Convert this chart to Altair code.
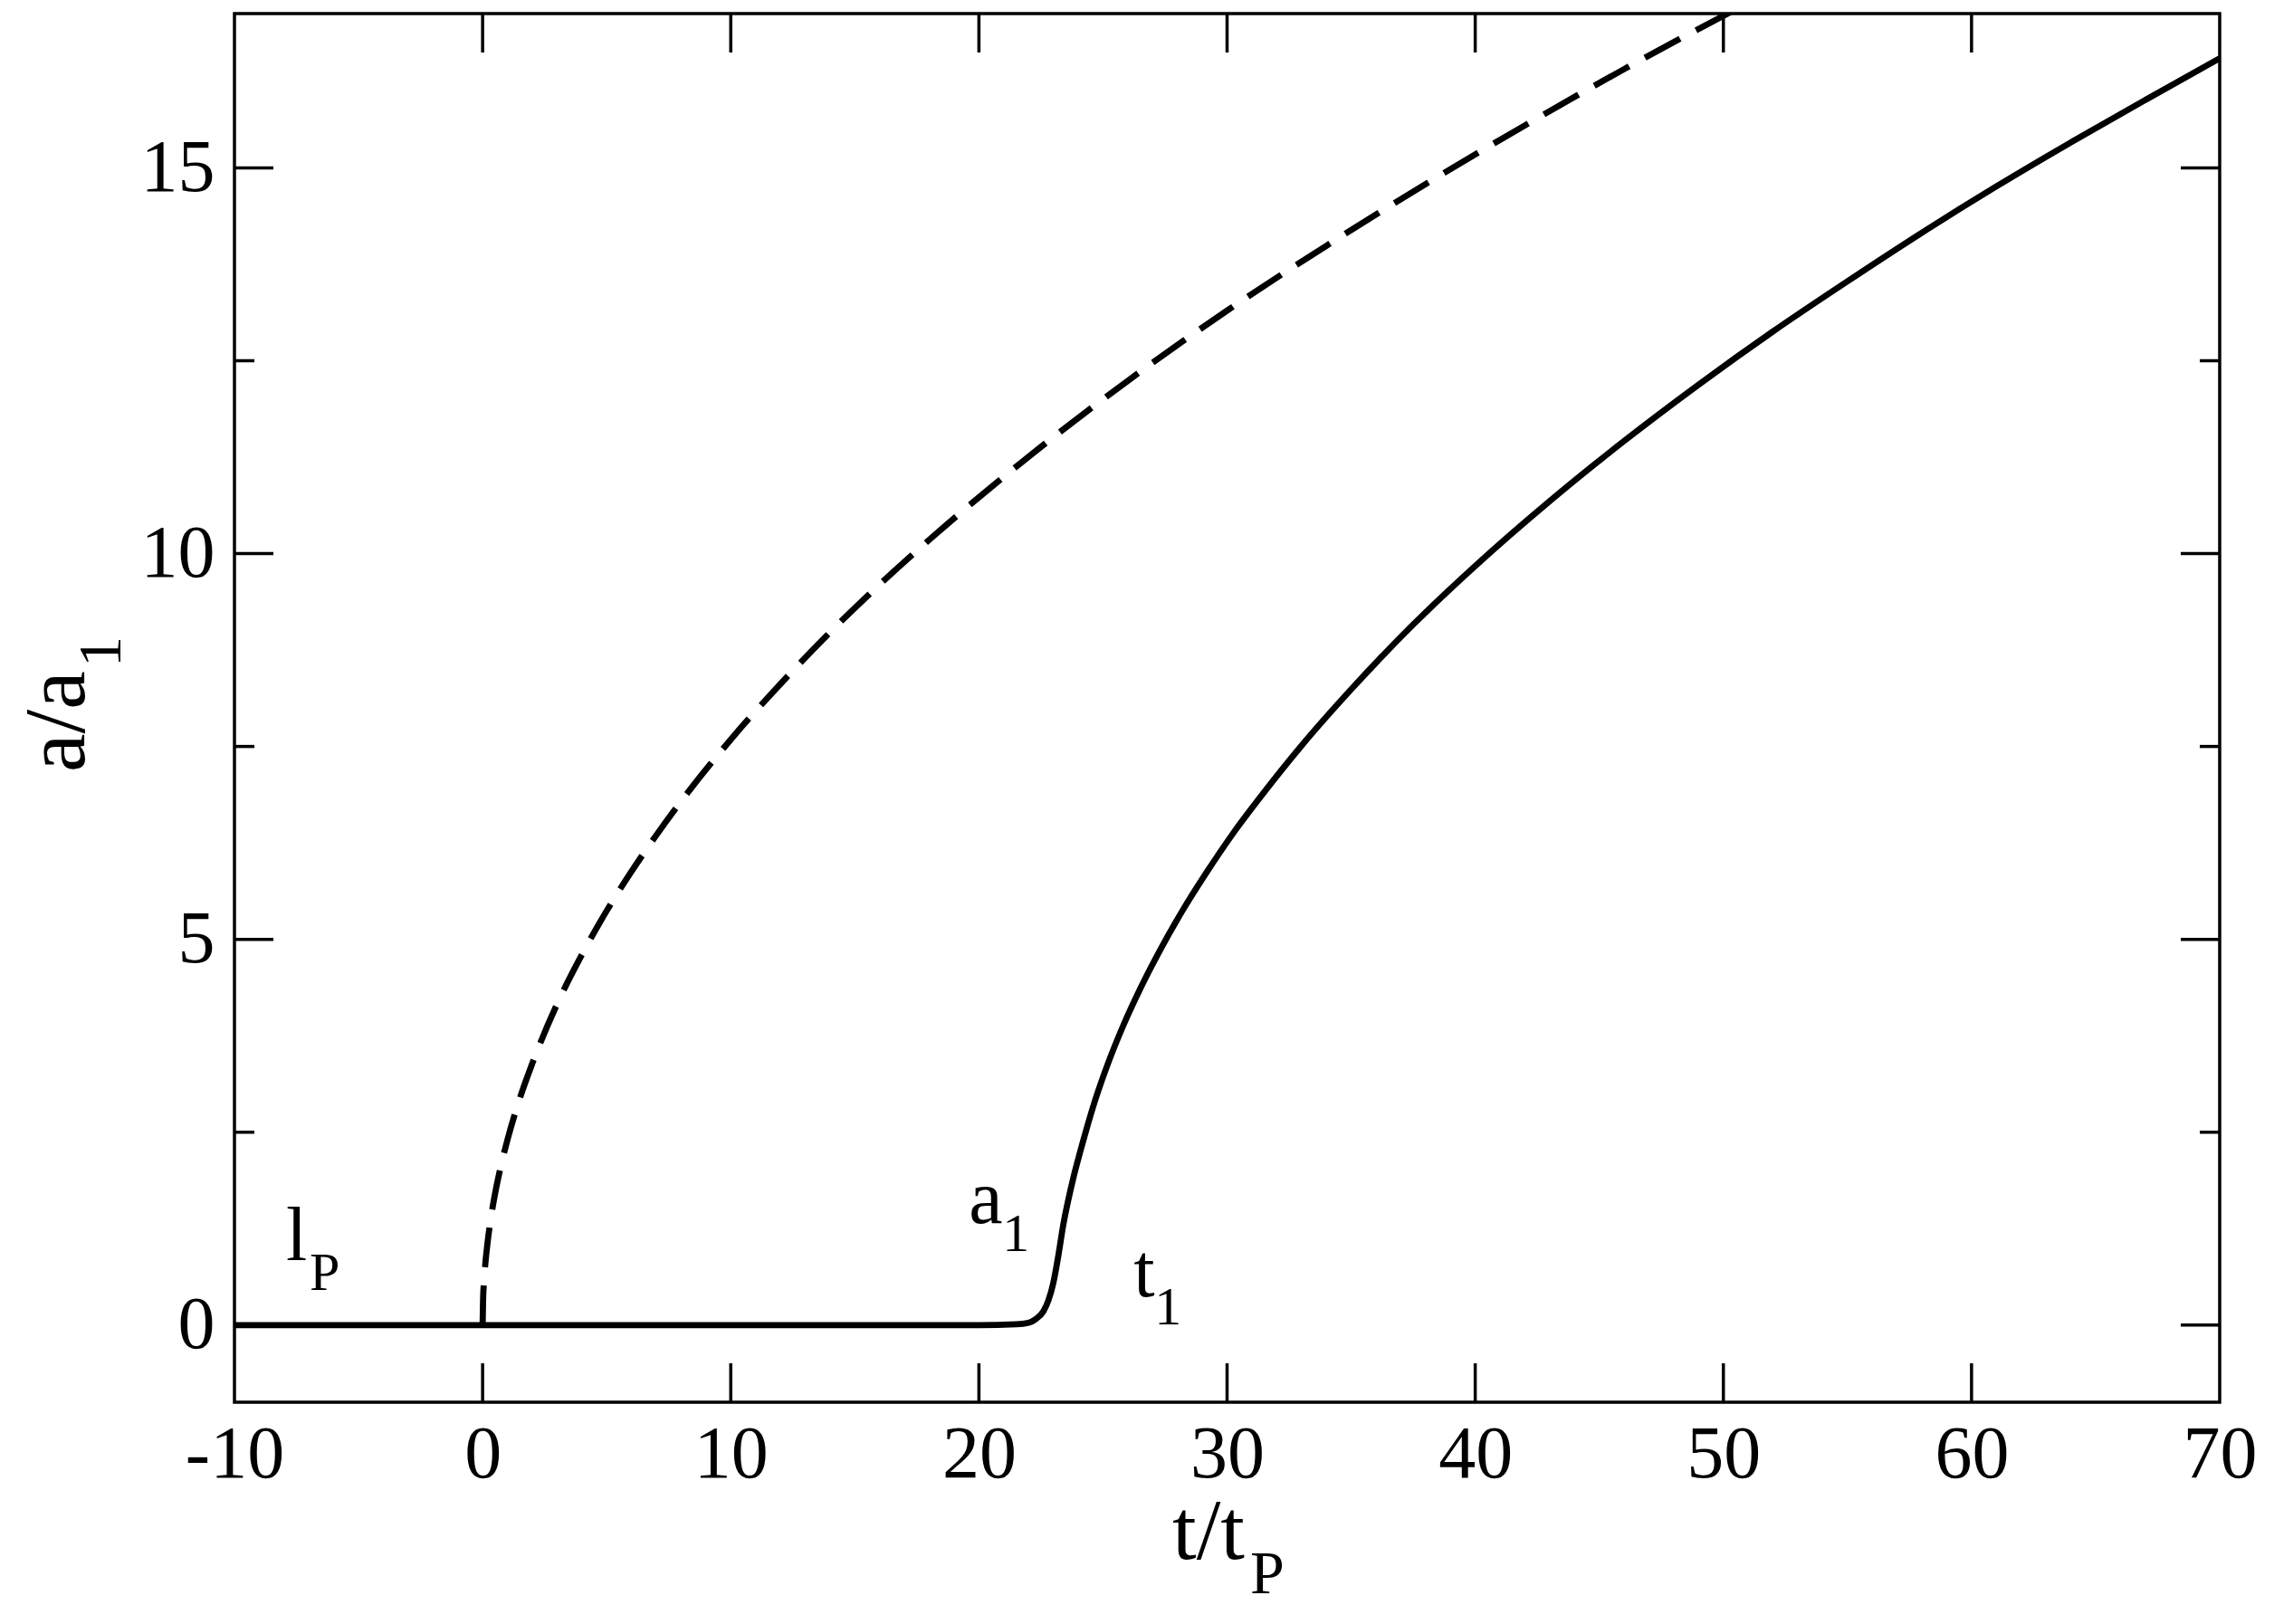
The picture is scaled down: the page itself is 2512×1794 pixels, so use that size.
import altair as alt
import pandas as pd

# ---- data ----
solid_t = [-10, 0, 10, 20, 21.5, 22.0, 22.3, 22.6, 22.8, 23.0, 23.2, 23.4, 23.6, 23.8, 24.0,
           24.3, 24.7, 25.2, 25.8, 26.5, 27.3, 28.2, 29.2, 30.3, 31.5, 33.0, 35.0, 37.5, 40.0,
           43.0, 46.0, 49.0, 52.0, 55.0, 58.0, 61.0, 64.0, 67.0, 70.0]
solid_a = [0, 0, 0, 0, 0.01, 0.03, 0.08, 0.18, 0.32, 0.55, 0.9, 1.3, 1.62, 1.9, 2.15,
           2.5, 2.93, 3.39, 3.87, 4.36, 4.86, 5.37, 5.88, 6.40, 6.91, 7.51, 8.24, 9.08, 9.84,
           10.68, 11.46, 12.19, 12.88, 13.53, 14.16, 14.76, 15.33, 15.88, 16.42]

dashed_t = [0, 0.02, 0.05, 0.1, 0.2, 0.35, 0.5, 0.75, 1, 1.5, 2, 3, 4, 5, 6, 7, 8, 10, 12, 14,
            16, 18, 20, 23, 26, 30, 34, 38, 42, 46, 50, 50.3]
dashed_a = [0, 0.34, 0.54, 0.76, 1.07, 1.42, 1.70, 2.08, 2.40, 2.94, 3.39, 4.16, 4.80, 5.37,
            5.88, 6.35, 6.79, 7.59, 8.31, 8.98, 9.60, 10.18, 10.73, 11.51, 12.24, 13.15, 13.99,
            14.79, 15.55, 16.28, 16.97, 17.02]

x_label_values = [-10, 0, 10, 20, 30, 40, 50, 60, 70]
x_tick_values = [0, 10, 20, 30, 40, 50, 60]
y_major_values = [0, 5, 10, 15]
y_minor_values = [2.5, 7.5, 12.5]

ann_main_text = ["l", "a", "t"]
ann_main_t = [-7.92, 19.59, 26.23]
ann_main_a = [0.84, 1.32, 0.37]
ann_sub_text = ["P", "1", "1"]
ann_sub_t = [-6.97, 20.94, 27.07]
ann_sub_a = [0.454, 0.96, 0.01]

# ---- layout ----
W, H = 2193, 1534
FONT = "Liberation Serif"
xs = alt.Scale(domain=[-10, 70], nice=False, zero=False)
ys = alt.Scale(domain=[-1, 17], nice=False, zero=False)

x_axis = alt.Axis(values=x_label_values, ticks=False, tickSize=0, domain=False, grid=False,
                  labelFont=FONT, labelFontSize=82, labelColor="black", labelPadding=17,
                  labelFlush=False, labelOverlap=False, title=None,
                  labelExpr="datum.value < 0 ? '-' + (-datum.value) : '' + datum.value")
y_axis = alt.Axis(values=y_major_values, ticks=False, tickSize=0, domain=False, grid=False,
                  labelFont=FONT, labelFontSize=82, labelColor="black", labelPadding=22,
                  labelFlush=False, labelOverlap=False, title=None)


def X(field):
    return alt.X(field, scale=xs, axis=x_axis, title=None)


def Y(field):
    return alt.Y(field, scale=ys, axis=y_axis, title=None)


solid_df = pd.DataFrame({"t": solid_t, "a": solid_a})
dashed_df = pd.DataFrame({"t": dashed_t, "a": dashed_a})

LW = 6.8
solid = alt.Chart(solid_df).mark_line(color="black", strokeWidth=LW, clip=True,
                                      interpolate="monotone").encode(x=X("t:Q"), y=Y("a:Q"))
dashed = alt.Chart(dashed_df).mark_line(color="black", strokeWidth=LW, clip=True,
                                        strokeDash=[44, 20], interpolate="monotone").encode(
    x=X("t:Q"), y=Y("a:Q"))

TL = 43
TLm = 22
tick_w = 3.5
xt_df = pd.DataFrame({"t": x_tick_values})
bottom_ticks = alt.Chart(xt_df).mark_rule(color="black", strokeWidth=tick_w).encode(
    x=X("t:Q"), y=alt.value(H), y2=alt.value(H - TL))
top_ticks = alt.Chart(xt_df).mark_rule(color="black", strokeWidth=tick_w).encode(
    x=X("t:Q"), y=alt.value(0), y2=alt.value(TL))
ymaj_df = pd.DataFrame({"a": y_major_values})
ymin_df = pd.DataFrame({"a": y_minor_values})
left_major = alt.Chart(ymaj_df).mark_rule(color="black", strokeWidth=tick_w).encode(
    y=Y("a:Q"), x=alt.value(0), x2=alt.value(TL))
right_major = alt.Chart(ymaj_df).mark_rule(color="black", strokeWidth=tick_w).encode(
    y=Y("a:Q"), x=alt.value(W), x2=alt.value(W - TL))
left_minor = alt.Chart(ymin_df).mark_rule(color="black", strokeWidth=tick_w).encode(
    y=Y("a:Q"), x=alt.value(0), x2=alt.value(TLm))
right_minor = alt.Chart(ymin_df).mark_rule(color="black", strokeWidth=tick_w).encode(
    y=Y("a:Q"), x=alt.value(W), x2=alt.value(W - TLm))

ann_main = alt.Chart(pd.DataFrame({"s": ann_main_text, "t": ann_main_t, "a": ann_main_a})).mark_text(
    font=FONT, fontSize=84, color="black", align="left", baseline="alphabetic").encode(
    x=X("t:Q"), y=Y("a:Q"), text="s:N")
ann_sub = alt.Chart(pd.DataFrame({"s": ann_sub_text, "t": ann_sub_t, "a": ann_sub_a})).mark_text(
    font=FONT, fontSize=60, color="black", align="left", baseline="alphabetic").encode(
    x=X("t:Q"), y=Y("a:Q"), text="s:N")

one = pd.DataFrame({"k": [0]})
xtitle_main = alt.Chart(one).mark_text(font=FONT, fontSize=96, color="black", align="left",
                                       baseline="alphabetic", text="t/t").encode(
    x=alt.value(1036), y=alt.value(1707))
xtitle_sub = alt.Chart(one).mark_text(font=FONT, fontSize=68, color="black", align="left",
                                      baseline="alphabetic", text="P").encode(
    x=alt.value(1122), y=alt.value(1745))
ytitle_main = alt.Chart(one).mark_text(font=FONT, fontSize=96, color="black", align="left",
                                       baseline="alphabetic", angle=270, text="a/a").encode(
    x=alt.value(-166), y=alt.value(838))
ytitle_sub = alt.Chart(one).mark_text(font=FONT, fontSize=68, color="black", align="left",
                                      baseline="alphabetic", angle=270, text="1").encode(
    x=alt.value(-126), y=alt.value(722))

chart = alt.layer(
    solid, dashed, bottom_ticks, top_ticks, left_major, right_major, left_minor, right_minor,
    ann_main, ann_sub, xtitle_main, xtitle_sub, ytitle_main, ytitle_sub
).properties(
    width=W, height=H,
    autosize=alt.AutoSizeParams(type="none"),
    padding={"left": 251, "top": 7, "right": 50, "bottom": 230},
    background="white",
).configure_view(stroke="black", strokeWidth=3.5)

chart.save("out.html", embed_options={"renderer": "svg", "actions": False})
